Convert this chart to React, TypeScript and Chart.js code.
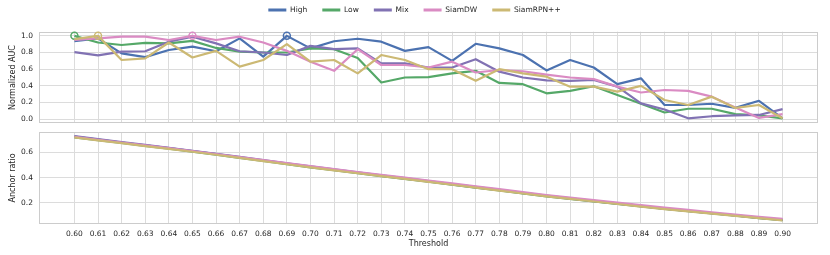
import React, { useEffect, useRef } from "react";
import { Chart, registerables } from "chart.js";

Chart.register(...registerables);

const thresholds = [0.60, 0.61, 0.62, 0.63, 0.64, 0.65, 0.66, 0.67, 0.68, 0.69, 0.70, 0.71, 0.72, 0.73, 0.74, 0.75, 0.76, 0.77, 0.78, 0.79, 0.80, 0.81, 0.82, 0.83, 0.84, 0.85, 0.86, 0.87, 0.88, 0.89, 0.90];
const seriesNames = ["High", "Low", "Mix", "SiamDW", "SiamRPN++"];
const seriesColors = ["#4C72B0", "#55A868", "#8172B3", "#DA8BC3", "#CCB974"];

// Normalized AUC (top panel)
const aucHigh = [0.935, 0.97, 0.79, 0.745, 0.83, 0.87, 0.815, 0.97, 0.75, 1.0, 0.85, 0.935, 0.965, 0.93, 0.82, 0.865, 0.70, 0.905, 0.85, 0.77, 0.585, 0.71, 0.62, 0.42, 0.49, 0.17, 0.17, 0.185, 0.135, 0.22, 0.01];
const aucLow = [1.0, 0.92, 0.89, 0.915, 0.91, 0.94, 0.855, 0.81, 0.80, 0.80, 0.85, 0.84, 0.735, 0.44, 0.50, 0.505, 0.55, 0.58, 0.435, 0.42, 0.31, 0.34, 0.395, 0.29, 0.185, 0.08, 0.125, 0.125, 0.06, 0.045, 0.01];
const aucMix = [0.805, 0.765, 0.81, 0.815, 0.93, 0.99, 0.91, 0.815, 0.80, 0.77, 0.88, 0.84, 0.85, 0.67, 0.67, 0.62, 0.62, 0.72, 0.57, 0.50, 0.465, 0.46, 0.47, 0.39, 0.19, 0.115, 0.01, 0.035, 0.045, 0.05, 0.12];
const aucSiamDW = [0.95, 0.97, 0.99, 0.99, 0.95, 1.0, 0.95, 0.99, 0.92, 0.82, 0.69, 0.58, 0.84, 0.65, 0.65, 0.62, 0.69, 0.56, 0.59, 0.575, 0.535, 0.50, 0.48, 0.39, 0.32, 0.35, 0.34, 0.27, 0.14, 0.015, 0.06];
const aucSiamRPN = [0.96, 1.0, 0.71, 0.73, 0.92, 0.74, 0.82, 0.63, 0.71, 0.90, 0.69, 0.71, 0.55, 0.77, 0.71, 0.60, 0.60, 0.46, 0.60, 0.55, 0.51, 0.39, 0.39, 0.33, 0.40, 0.23, 0.17, 0.27, 0.135, 0.17, 0.01];
// index of the marked (maximum) point per series, -1 = none
const maxMarks = [9, 0, -1, 5, 1];

// Anchor ratio (bottom panel)
const ratioHigh = [0.723, 0.700, 0.677, 0.654, 0.632, 0.609, 0.585, 0.560, 0.535, 0.510, 0.485, 0.461, 0.438, 0.415, 0.392, 0.369, 0.346, 0.323, 0.300, 0.277, 0.254, 0.234, 0.214, 0.194, 0.174, 0.154, 0.136, 0.118, 0.100, 0.082, 0.065];
const ratioLow = [0.718, 0.695, 0.673, 0.650, 0.628, 0.605, 0.581, 0.556, 0.531, 0.506, 0.481, 0.458, 0.435, 0.412, 0.390, 0.367, 0.344, 0.321, 0.298, 0.275, 0.252, 0.232, 0.212, 0.192, 0.172, 0.152, 0.134, 0.116, 0.098, 0.080, 0.063];
const ratioMix = [0.727, 0.704, 0.681, 0.658, 0.635, 0.612, 0.588, 0.563, 0.538, 0.513, 0.488, 0.464, 0.441, 0.418, 0.395, 0.372, 0.349, 0.326, 0.303, 0.280, 0.257, 0.236, 0.216, 0.196, 0.176, 0.155, 0.137, 0.119, 0.101, 0.083, 0.066];
const ratioSiamDW = [0.722, 0.699, 0.677, 0.654, 0.632, 0.610, 0.586, 0.562, 0.538, 0.514, 0.490, 0.467, 0.444, 0.421, 0.399, 0.377, 0.354, 0.331, 0.308, 0.285, 0.262, 0.242, 0.222, 0.202, 0.182, 0.162, 0.144, 0.126, 0.108, 0.090, 0.073];
const ratioSiamRPN = [0.717, 0.694, 0.672, 0.649, 0.627, 0.604, 0.580, 0.555, 0.530, 0.505, 0.480, 0.457, 0.434, 0.411, 0.389, 0.366, 0.343, 0.320, 0.297, 0.274, 0.251, 0.231, 0.211, 0.191, 0.171, 0.151, 0.133, 0.115, 0.097, 0.079, 0.062];

const topTicks = [0.0, 0.2, 0.4, 0.6, 0.8, 1.0];
const bottomTicks = [0.2, 0.4, 0.6];

const aucSeries = [aucHigh, aucLow, aucMix, aucSiamDW, aucSiamRPN];
const ratioSeries = [ratioHigh, ratioLow, ratioMix, ratioSiamDW, ratioSiamRPN];

const TEXT = "#262626";
const GRID = "#dcdcdc";
const FONT = "'DejaVu Sans', sans-serif";

const framePlugin = {
  id: "frame",
  beforeDatasetsDraw(chart: any) {
    const { ctx, chartArea } = chart;
    const l = Math.round(chartArea.left) + 0.5;
    const t = Math.round(chartArea.top) + 0.5;
    const r = Math.round(chartArea.right) - 0.5;
    const b = Math.round(chartArea.bottom) - 0.5;
    ctx.save();
    ctx.strokeStyle = "#cccccc";
    ctx.lineWidth = 1;
    ctx.strokeRect(l, t, r - l, b - t);
    ctx.restore();
  },
};

function buildDatasets(series: number[][], marks: number[] | null) {
  return series.map((vals, i) => ({
    label: seriesNames[i],
    data: vals.map((v, j) => ({ x: thresholds[j], y: v })),
    borderColor: seriesColors[i],
    backgroundColor: seriesColors[i],
    borderWidth: 2.2,
    tension: 0,
    borderJoinStyle: "round" as const,
    order: -i,
    clip: 8,
    pointRadius: vals.map((_, j) => (marks && marks[i] === j ? 3.5 : 0)),
    pointBackgroundColor: "rgba(0,0,0,0)",
    pointBorderColor: seriesColors[i],
    pointBorderWidth: 1.5,
    pointHoverRadius: 0,
  }));
}

function xScale(showLabels: boolean) {
  return {
    type: "linear" as const,
    min: 0.585,
    max: 0.915,
    afterBuildTicks: (s: any) => {
      s.ticks = thresholds.map((v) => ({ value: v }));
    },
    afterFit: (s: any) => {
      s.height = showLabels ? 31 : 0;
      s.paddingLeft = 0;
      s.paddingRight = 0;
    },
    grid: { color: GRID, lineWidth: 1, drawTicks: false },
    border: { display: false },
    ticks: {
      display: showLabels,
      autoSkip: false,
      maxRotation: 0,
      padding: 6,
      color: TEXT,
      font: { family: FONT, size: 7.5 },
      callback: (v: any) => Number(v).toFixed(2),
    },
    title: {
      display: showLabels,
      text: "Threshold",
      color: TEXT,
      font: { family: FONT, size: 8 },
      padding: { top: 0, bottom: 6 },
    },
  };
}

function yScale(min: number, max: number, ticks: number[], title: string) {
  return {
    type: "linear" as const,
    min,
    max,
    afterBuildTicks: (s: any) => {
      s.ticks = ticks.map((v) => ({ value: v }));
    },
    afterFit: (s: any) => {
      s.width = 28;
      s.paddingTop = 0;
      s.paddingBottom = 0;
    },
    grid: { color: GRID, lineWidth: 1, drawTicks: false },
    border: { display: false },
    ticks: {
      padding: 6,
      color: TEXT,
      font: { family: FONT, size: 7.5 },
      callback: (v: any) => Number(v).toFixed(1),
    },
    title: {
      display: true,
      text: title,
      color: TEXT,
      font: { family: FONT, size: 8 },
      padding: { top: -2.5, bottom: 0 },
    },
  };
}

export default function App() {
  const topRef = useRef<HTMLCanvasElement | null>(null);
  const bottomRef = useRef<HTMLCanvasElement | null>(null);

  useEffect(() => {
    const legendGen = (chart: any) =>
      Chart.defaults.plugins.legend.labels
        .generateLabels(chart)
        .map((l: any) => ({ ...l, lineWidth: 0, fillStyle: l.strokeStyle }));

    const top = new Chart(topRef.current as HTMLCanvasElement, {
      type: "line",
      data: { datasets: buildDatasets(aucSeries, maxMarks) as any },
      options: {
        responsive: false,
        animation: false,
        layout: { autoPadding: false, padding: { left: 11, right: 12, top: -8.75, bottom: 1.7 } },
        scales: {
          x: xScale(false) as any,
          y: yScale(-0.05, 1.05, topTicks, "Normalized AUC") as any,
        },
        plugins: {
          tooltip: { enabled: false },
          legend: {
            display: true,
            position: "top",
            labels: {
              boxWidth: 18,
              boxHeight: 3,
              padding: 15,
              color: TEXT,
              font: { family: FONT, size: 7.5 },
              generateLabels: legendGen,
              sort: (a: any, b: any) => a.datasetIndex - b.datasetIndex,
            },
          },
          title: {
            display: true,
            text: "",
            weight: 500,
            font: { size: 1 },
            padding: { top: 0, bottom: 6.75 },
          } as any,
        },
        events: [],
      },
      plugins: [framePlugin],
    });

    const bottom = new Chart(bottomRef.current as HTMLCanvasElement, {
      type: "line",
      data: { datasets: buildDatasets(ratioSeries, null) as any },
      options: {
        responsive: false,
        animation: false,
        layout: { autoPadding: false, padding: { left: 11, right: 12, top: 7, bottom: 0 } },
        scales: {
          x: xScale(true) as any,
          y: yScale(0.033, 0.76, bottomTicks, "Anchor ratio") as any,
        },
        plugins: {
          tooltip: { enabled: false },
          legend: { display: false },
        },
        events: [],
      },
      plugins: [framePlugin],
    });

    return () => {
      top.destroy();
      bottom.destroy();
    };
  }, []);

  return (
    <div style={{ position: "absolute", left: 0, top: 0, width: 830, height: 255, background: "#ffffff", overflow: "hidden" }}>
      <canvas ref={topRef} width={830} height={125} style={{ position: "absolute", left: 0, top: 0, width: 830, height: 125 }} />
      <canvas ref={bottomRef} width={830} height={130} style={{ position: "absolute", left: 0, top: 125, width: 830, height: 130 }} />
    </div>
  );
}
